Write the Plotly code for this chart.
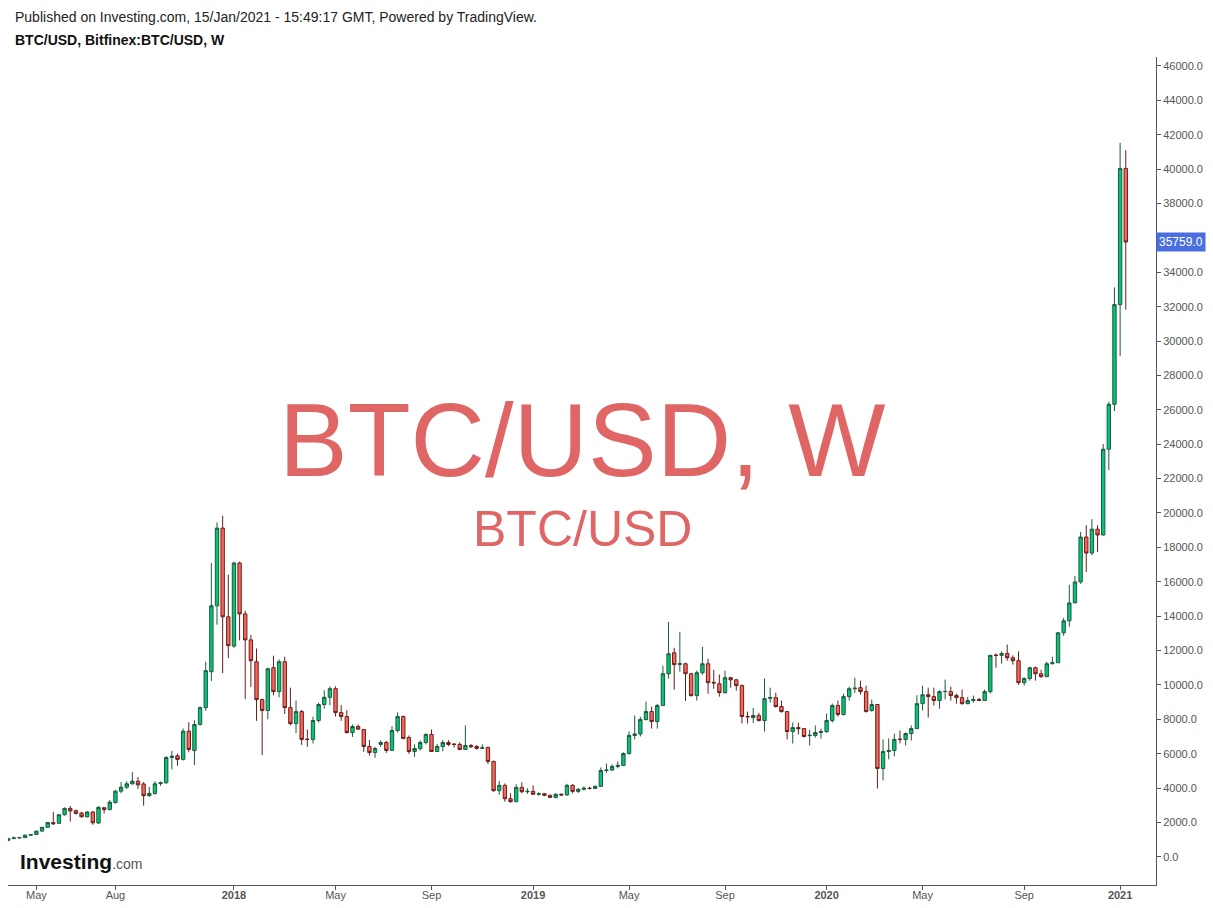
import pandas as pd
import plotly.graph_objects as go

# ---------------- data (weekly candles, Monday dated) ----------------
start_week = "2017-03-27"
n_weeks = 199

opens = [960,1060,1100,1120,1260,1300,1500,1720,1990,1950,2450,2820,2690,2550,2330,2610,1970,2860,2750,3160,
         3820,4050,4250,4400,4240,3560,3690,4270,4310,5780,5880,5670,7310,6190,7700,8680,10770,14600,19120,13960,
         12260,17090,14130,12620,11350,9150,8510,11000,9610,11350,8680,7750,8450,6840,6830,7930,8860,9280,9780,8390,
         8160,7230,7580,7410,6420,6070,6540,6650,6190,7350,8160,6940,6130,6300,6650,7120,6130,6420,6650,6560,
         6540,6250,6480,6420,6310,6360,5550,3850,4160,3380,3210,4040,3790,3810,3640,3670,3580,3460,3640,3600,
         4160,3810,3930,3990,3980,4100,5030,5050,5260,5320,6010,7060,7150,7990,8450,7870,8800,10650,11870,11200,
         11230,10650,9380,10710,11230,10150,10070,9550,10420,10300,9960,8170,8100,8220,7930,9220,9260,8740,8450,7290,
         7520,7460,7050,7060,7230,7290,7930,8800,8280,9320,9780,9840,9610,8510,8860,5140,6130,6190,6850,6830,
         7170,7460,8910,9430,9320,9090,9610,9610,9380,9260,8910,9090,9150,9090,9610,11740,11720,11830,11580,11410,
         10130,10370,11000,10650,10480,11230,11290,13030,13730,14770,15990,18600,17670,19060,18720,23710,26320,32120,40040]
highs = [1100,1180,1160,1290,1330,1520,1740,2030,2620,2480,2880,2960,2750,2610,2650,2660,2950,2880,3300,3900,
         4350,4400,4930,4650,4350,4070,4400,4380,5850,6170,6010,7460,7830,7950,8750,11350,17090,19450,19840,16410,
         17170,17170,14310,12900,12120,9200,11000,11700,11480,11640,9840,9090,8540,7410,8160,8970,9690,9920,9920,8820,
         8530,7700,7700,7430,6790,6400,6780,6750,7600,8410,8220,7060,6550,6780,7190,7410,6560,6790,6790,6610,
         6660,7640,6560,6500,6540,6420,5600,4410,4270,3700,4220,4330,3990,4160,3760,3720,3620,3700,3700,4250,
         4230,4000,4100,4080,4160,5200,5430,5380,5550,6080,7300,8220,8150,9030,8740,8900,11120,13670,12160,13090,
         11290,10710,10830,12210,11520,10880,10610,10830,10480,10300,10020,8450,8660,8380,10370,9840,9550,9090,8450,7810,
         7810,7460,7400,7640,7460,8340,8920,9090,9490,9900,10420,10250,9960,9150,8860,6830,6890,7170,7350,7230,
         7640,9400,9960,9840,9840,9690,10310,9900,9490,9730,9300,9380,9250,9730,11750,11830,11950,12350,11720,11950,
         10450,11060,11060,10880,11350,11640,13070,13900,15820,16340,18890,19290,19640,19290,24010,26470,33120,41530,41100]
lows = [930,1040,1080,1100,1230,1280,1470,1700,1850,1900,2400,2050,2450,2300,2300,1870,1900,2530,2700,3100,
        3700,3950,4200,3950,2980,3490,3620,4130,4250,5090,5300,5600,6090,5340,7640,8500,10230,13500,10690,11560,
        12160,12590,9180,9880,7910,5920,8000,9400,9280,8310,7640,7210,6510,6400,6600,7810,8620,8820,8160,7910,
        7170,6980,7380,6110,5880,5760,6400,6050,6190,7230,6850,5990,5820,6190,6540,6110,6120,6140,6450,6360,
        6200,6250,6340,6250,6280,5400,3790,3610,3210,3150,3210,3700,3670,3600,3560,3530,3420,3400,3570,3560,
        3700,3720,3870,3920,3940,4080,4890,5000,5150,5300,5950,6830,7000,7930,7460,7460,8800,10370,9730,10770,
        9070,9320,9090,10590,9490,9780,9320,9490,9840,9670,7760,7760,7790,7870,7290,8970,8680,8390,6830,6590,
        7120,6940,6480,6940,6880,7210,7810,8160,8220,9090,9550,9440,8400,8450,3980,4450,5670,5840,6600,6480,
        6770,7460,8510,8100,8800,8620,9150,9090,8910,8860,8880,8970,9090,9090,9500,11000,11230,11410,11180,10000,
        9960,10250,10250,10420,10480,11200,11290,12860,13380,14770,15880,16570,17550,17730,18700,22490,25930,29120,31820]
closes = [1060,1100,1120,1260,1300,1500,1720,2000,1930,2450,2820,2670,2530,2330,2610,1980,2880,2750,3180,3820,
          4050,4250,4400,4190,3560,3690,4250,4310,5780,5860,5670,7310,6250,7700,8680,10830,14600,19120,13960,12280,
          17090,14130,12620,11410,9150,8510,10940,9610,11350,8680,7750,8450,6830,6830,7930,8860,9280,9780,8390,8160,
          7230,7580,7430,6420,6070,6300,6650,6190,7350,8160,6880,6130,6300,6650,7120,6130,6420,6650,6540,6540,
          6250,6480,6400,6300,6340,5550,3850,4160,3380,3210,4040,3790,3810,3640,3670,3580,3460,3640,3600,4160,
          3810,3930,3990,3980,4100,5030,5050,5260,5320,6010,7060,7150,7990,8450,7870,8800,10650,11810,11180,11230,
          10650,9380,10710,11230,10130,10120,9550,10420,10300,9960,8160,8150,8220,7930,9200,9260,8740,8450,7290,7520,
          7460,7000,7070,7230,7290,7930,8800,8280,9320,9780,9810,9610,8450,8860,5140,6130,6190,6830,6830,7170,
          7460,8910,9430,9320,9090,9610,9620,9380,9260,8910,9090,9150,9100,9610,11720,11710,11830,11580,11410,10130,
          10370,11000,10650,10480,11230,11290,13030,13730,14770,15990,18600,17670,19060,18720,23710,26320,32120,40040,35759]

last_price = 35759.0

# axis ticks
x_tick_dates = ["2017-05-01", "2017-08-07", "2018-01-01", "2018-05-07", "2018-09-03", "2019-01-07",
                "2019-05-06", "2019-09-02", "2020-01-06", "2020-05-04", "2020-09-07", "2021-01-04"]
x_tick_text = ["May", "Aug", "<b>2018</b>", "May", "Sep", "<b>2019</b>",
               "May", "Sep", "<b>2020</b>", "May", "Sep", "<b>2021</b>"]
x_range = ["2017-03-26 19:00", "2021-02-17 12:00"]
y_range = [-1636, 46520]

title_line1 = "Published on Investing.com, 15/Jan/2021 - 15:49:17 GMT, Powered by TradingView."
title_line2 = "BTC/USD, Bitfinex:BTC/USD, W"
watermark_big = "BTC/USD, W"
watermark_small = "BTC/USD"

# ---------------- layout geometry (pixels) ----------------
W, H = 1213, 908
L, R, T, B = 8, 1156, 57, 885
FONT = "Liberation Sans, Arial, sans-serif"


def px_x(px):
    return (px - L) / (R - L)


def px_y(py):
    return (B - py) / (B - T)


dates = pd.date_range(start_week, periods=n_weeks, freq="7D")

fig = go.Figure()
fig.add_trace(go.Candlestick(
    x=dates, open=opens, high=highs, low=lows, close=closes,
    increasing=dict(fillcolor="#05c37a", line=dict(color="#1d5b3c", width=1)),
    decreasing=dict(fillcolor="#fa665c", line=dict(color="#6a1e19", width=1)),
    whiskerwidth=0, showlegend=False, hoverinfo="skip",
))

annotations = [
    dict(text=title_line1, xref="paper", yref="paper", x=px_x(13), y=px_y(17),
         xanchor="left", yanchor="middle", showarrow=False,
         font=dict(family=FONT, size=14, color="#222222")),
    dict(text="<b>" + title_line2 + "</b>", xref="paper", yref="paper", x=px_x(13), y=px_y(40),
         xanchor="left", yanchor="middle", showarrow=False,
         font=dict(family=FONT, size=14, color="#111111")),
    dict(text=watermark_big, xref="paper", yref="paper", x=px_x(582), y=px_y(441),
         xanchor="center", yanchor="middle", showarrow=False,
         font=dict(family=FONT, size=103, color="#e06666")),
    dict(text=watermark_small, xref="paper", yref="paper", x=px_x(582), y=px_y(529),
         xanchor="center", yanchor="middle", showarrow=False,
         font=dict(family=FONT, size=50, color="#e06666")),
    dict(text="<b>Investing</b><span style='font-size:14px;color:#555555'>.com</span>",
         xref="paper", yref="paper", x=px_x(18), y=px_y(861),
         xanchor="left", yanchor="middle", showarrow=False,
         font=dict(family=FONT, size=21, color="#111111")),
    dict(text="%.1f" % last_price, xref="paper", yref="y", x=1, y=last_price,
         xanchor="left", yanchor="middle", showarrow=False, xshift=0,
         bgcolor="#4a6ee0", borderpad=2,
         font=dict(family=FONT, size=12, color="#ffffff")),
]

fig.update_layout(
    width=W, height=H,
    margin=dict(l=L, r=W - R, t=T, b=H - B, pad=0),
    paper_bgcolor="#ffffff", plot_bgcolor="#ffffff",
    showlegend=False,
    boxgap=0.15,
    annotations=annotations,
    xaxis=dict(
        type="date", range=x_range, rangeslider=dict(visible=False), automargin=False,
        showgrid=False, zeroline=False, showline=True, linecolor="#555555", linewidth=1,
        ticks="outside", ticklen=4, tickcolor="#555555", ticklabelstandoff=-4,
        tickmode="array", tickvals=x_tick_dates, ticktext=x_tick_text,
        tickfont=dict(family=FONT, size=11, color="#555555"),
    ),
    yaxis=dict(
        side="right", range=y_range, tick0=0, dtick=2000, tickformat=".1f", automargin=False,
        showgrid=False, zeroline=False, showline=True, linecolor="#555555", linewidth=1,
        ticks="outside", ticklen=4, tickcolor="#555555",
        tickfont=dict(family=FONT, size=11, color="#555555"),
    ),
)

fig.write_html(
    "out.html",
    config={"displayModeBar": False},
    post_script="document.body.style.margin='0';document.body.style.padding='0';document.body.style.overflow='hidden';",
)
